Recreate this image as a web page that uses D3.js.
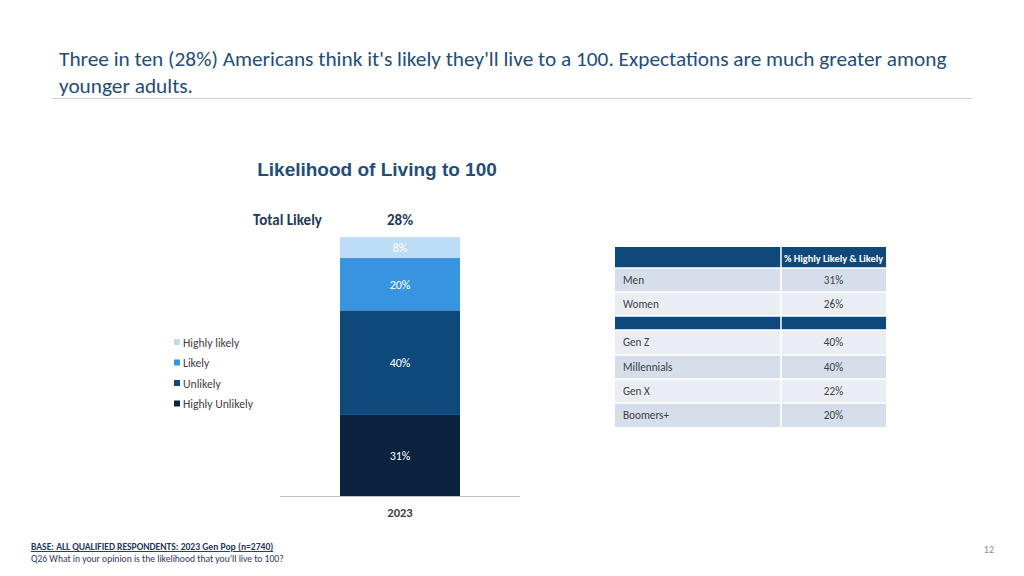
<!DOCTYPE html>
<html><head><meta charset="utf-8">
<script src="https://cdn.jsdelivr.net/npm/d3@7"></script>
<style>
html,body{margin:0;padding:0;background:#fff;}
svg{display:block;}
</style></head>
<body>
<svg id="c" width="1024" height="576"></svg>
<script>
const categories = ["2023"];
const seriesNames = ["Highly Unlikely", "Unlikely", "Likely", "Highly likely"];
const seriesValues = [31, 40, 20, 8];
const seriesColors = ["#0b233f", "#0f497c", "#3894e1", "#bddcf5"];
const legendNames = ["Highly likely", "Likely", "Unlikely", "Highly Unlikely"];
const totalLikely = "28%";
const tableRowLabels = ["Men", "Women", "", "Gen Z", "Millennials", "Gen X", "Boomers+"];
const tableRowValues = [31, 26, null, 40, 40, 22, 20];
const tableHeader = "% Highly Likely & Likely";

const svg = d3.select("#c");
const font = "Carlito, Calibri, Lato, 'Open Sans', sans-serif";

// Title
const title = svg.append("text").attr("x", 59).attr("font-family", font).attr("font-size", 21.3).attr("fill", "#1f4e79");
title.append("tspan").attr("x", 59).attr("y", 66).text("Three in ten (28%) Americans think it's likely they'll live to a 100. Expectations are much greater among");
title.append("tspan").attr("x", 59).attr("y", 93).text("younger adults.");
svg.append("line").attr("x1", 52).attr("x2", 972).attr("y1", 98.5).attr("y2", 98.5).attr("stroke", "#d0d0d0").attr("stroke-width", 1);

// Chart title
svg.append("text").attr("x", 377).attr("y", 176).attr("text-anchor", "middle")
  .attr("font-family", "Arial, 'Liberation Sans', sans-serif").attr("font-weight", "bold").attr("font-size", 19).attr("fill", "#1f4e79")
  .text("Likelihood of Living to 100");

// Scales
const x = d3.scaleBand().domain(categories).range([280, 520]).paddingInner(0).paddingOuter(0.5);
const y = d3.scaleLinear().domain([0, 100]).range([496, 234.5]);

const stackData = [Object.fromEntries(seriesNames.map((n, i) => [n, seriesValues[i]]))];
const stacked = d3.stack().keys(seriesNames)(stackData);

const g = svg.append("g");
stacked.forEach((s, i) => {
  s.forEach(d => {
    g.append("rect")
      .attr("x", x(categories[0]))
      .attr("width", x.bandwidth())
      .attr("y", y(d[1]))
      .attr("height", y(d[0]) - y(d[1]))
      .attr("fill", seriesColors[i]);
    g.append("text")
      .attr("x", x(categories[0]) + x.bandwidth() / 2)
      .attr("y", (y(d[0]) + y(d[1])) / 2 + 4.5)
      .attr("text-anchor", "middle")
      .attr("font-family", font).attr("font-size", 12)
      .attr("fill", "#ffffff")
      .text(seriesValues[i] + "%");
  });
});

// Axis
const xAxis = d3.axisBottom(x).tickSize(0).tickPadding(12);
const ax = svg.append("g").attr("transform", "translate(0,496)").call(xAxis);
ax.select(".domain").attr("stroke", "#bfbfbf").attr("d", "M280,0.5H520");
ax.selectAll("text").attr("font-family", font).attr("font-weight", "bold").attr("font-size", 12.5).attr("fill", "#404040");

// Total likely
svg.append("text").attr("x", 287.5).attr("y", 225).attr("text-anchor", "middle").attr("font-family", font)
  .attr("font-weight", "bold").attr("font-size", 15).attr("fill", "#1f3a5c").text("Total Likely");
svg.append("text").attr("x", 400).attr("y", 225).attr("text-anchor", "middle").attr("font-family", font)
  .attr("font-weight", "bold").attr("font-size", 15).attr("fill", "#1f3a5c").text(totalLikely);

// Legend
const leg = svg.append("g");
legendNames.forEach((n, i) => {
  const ly = 343 + i * 20.5;
  const ci = seriesNames.indexOf(n);
  leg.append("rect").attr("x", 174).attr("y", ly - 4).attr("width", 6).attr("height", 6).attr("fill", seriesColors[ci]);
  leg.append("text").attr("x", 183).attr("y", ly + 3.5).attr("font-family", font).attr("font-size", 11.7).attr("fill", "#404040").text(n);
});

// Table
const tx0 = 615, tx1 = 781, tx2 = 886;
const rowY = [268, 292, 316, 330, 355, 379, 403, 427];
const tg = svg.append("g");
tg.append("rect").attr("x", tx0).attr("y", 247).attr("width", tx1 - tx0).attr("height", 21).attr("fill", "#0f497c");
tg.append("rect").attr("x", tx1).attr("y", 247).attr("width", tx2 - tx1).attr("height", 21).attr("fill", "#0f497c");
tg.append("text").attr("x", (tx1 + tx2) / 2).attr("y", 261.5).attr("text-anchor", "middle").attr("font-family", font)
  .attr("font-weight", "bold").attr("font-size", 10.3).attr("fill", "#fff").text(tableHeader);
const rowFill = ["#d5deea", "#eaeef4", "#0f497c", "#eaeef4", "#d5deea", "#eaeef4", "#d5deea"];
tableRowLabels.forEach((lab, i) => {
  const y0 = rowY[i], h = rowY[i + 1] - rowY[i];
  tg.append("rect").attr("x", tx0).attr("y", y0).attr("width", tx1 - tx0).attr("height", h).attr("fill", rowFill[i]);
  tg.append("rect").attr("x", tx1).attr("y", y0).attr("width", tx2 - tx1).attr("height", h).attr("fill", rowFill[i]);
  if (tableRowValues[i] !== null) {
    tg.append("text").attr("x", 623).attr("y", y0 + 16).attr("font-family", font).attr("font-size", 11.2).attr("fill", "#404040").text(lab);
    tg.append("text").attr("x", (tx1 + tx2) / 2).attr("y", y0 + 16).attr("text-anchor", "middle").attr("font-family", font).attr("font-size", 11.2).attr("fill", "#404040").text(tableRowValues[i] + "%");
  }
});
// white grid lines
rowY.slice(0, -1).forEach(yy => {
  tg.append("line").attr("x1", tx0).attr("x2", tx2).attr("y1", yy).attr("y2", yy).attr("stroke", "#fff").attr("stroke-width", 1.5);
});
tg.append("line").attr("x1", tx1).attr("x2", tx1).attr("y1", 247).attr("y2", 427).attr("stroke", "#fff").attr("stroke-width", 1.5);

// Footer
svg.append("text").attr("x", 31).attr("y", 550).attr("font-family", font).attr("font-weight", "bold").attr("font-size", 9.6)
  .attr("fill", "#1f3a5c").attr("text-decoration", "underline").text("BASE: ALL QUALIFIED RESPONDENTS: 2023 Gen Pop (n=2740)");
svg.append("text").attr("x", 31).attr("y", 562).attr("font-family", font).attr("font-size", 9.6)
  .attr("fill", "#1f3a5c").text("Q26 What in your opinion is the likelihood that you\u2019ll live to 100?");
svg.append("text").attr("x", 994).attr("y", 553).attr("text-anchor", "end").attr("font-family", font).attr("font-size", 10)
  .attr("fill", "#8c8c8c").text("12");
</script>
</body></html>
